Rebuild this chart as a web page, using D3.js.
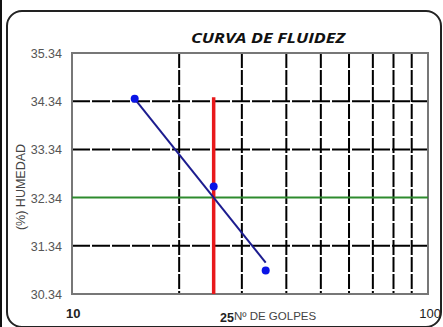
<!DOCTYPE html>
<html>
<head>
<meta charset="utf-8">
<script src="https://cdn.jsdelivr.net/npm/d3@7"></script>
<style>
  html, body { margin: 0; padding: 0; background: #fff; }
  svg { display: block; }
</style>
</head>
<body>
<svg id="chart" width="443" height="327"></svg>
<script>
// Ensayo de límite líquido: humedad vs número de golpes
const golpes = [15, 25, 35];
const humedad = [34.39, 32.57, 30.83];
// Recta de ajuste (escala logarítmica)
const ajusteGolpes = [15, 35];
const ajusteHumedad = [34.39, 30.99];
// Línea de referencia a 25 golpes y límite líquido
const golpesRef = 25;
const limiteLiquido = 32.34;
const refTop = 34.42;
const yTicks = [30.34, 31.34, 32.34, 33.34, 34.34, 35.34];
const xGrid = [20, 30, 40, 50, 60, 70, 80, 90];

const svg = d3.select("#chart");
const W = 443, H = 327;
const m = { left: 72, right: 15, top: 53, bottom: 33 };

const x = d3.scaleLog().domain([10, 100]).range([m.left, W - m.right]);
const y = d3.scaleLinear().domain([30.34, 35.34]).range([H - m.bottom, m.top]);

// marco exterior
svg.append("line").attr("x1", 1).attr("x2", 1).attr("y1", 0).attr("y2", H)
  .attr("stroke", "#111").attr("stroke-width", 2);
svg.append("rect").attr("x", 7).attr("y", 11).attr("width", 434).attr("height", 316)
  .attr("rx", 15).attr("fill", "none").attr("stroke", "#222").attr("stroke-width", 2);

// título
svg.append("text").attr("x", 268).attr("y", 43).attr("text-anchor", "middle")
  .attr("font-family", "'Open Sans', sans-serif")
  .attr("font-weight", "bold").attr("font-style", "italic").attr("font-size", 14)
  .attr("textLength", 154).attr("lengthAdjust", "spacingAndGlyphs")
  .attr("fill", "#111").text("CURVA DE FLUIDEZ");

const plot = svg.append("g");

// rejilla vertical
plot.selectAll(".vg").data(xGrid).join("line")
  .attr("x1", d => x(d)).attr("x2", d => x(d))
  .attr("y1", y(35.34)).attr("y2", y(30.34))
  .attr("stroke", "#000").attr("stroke-width", 2).attr("stroke-dasharray", "15,2");

// rejilla horizontal
plot.selectAll(".hg").data(yTicks.filter(v => v > 30.34 && v < 35.34 && v !== limiteLiquido)).join("line")
  .attr("x1", m.left).attr("x2", W - m.right)
  .attr("y1", d => y(d)).attr("y2", d => y(d))
  .attr("stroke", "#000").attr("stroke-width", 2).attr("stroke-dasharray", "18,2");

// borde del área de trazado
plot.append("rect").attr("x", m.left).attr("y", m.top)
  .attr("width", W - m.right - m.left).attr("height", H - m.bottom - m.top)
  .attr("fill", "none").attr("stroke", "#777").attr("stroke-width", 2);

// límite líquido (horizontal verde)
plot.append("line").attr("x1", m.left).attr("x2", W - m.right)
  .attr("y1", y(limiteLiquido)).attr("y2", y(limiteLiquido))
  .attr("stroke", "#2e8b2e").attr("stroke-width", 2);

// 25 golpes (vertical roja)
plot.append("line").attr("x1", x(golpesRef)).attr("x2", x(golpesRef))
  .attr("y1", y(refTop)).attr("y2", y(30.34))
  .attr("stroke", "#e8191b").attr("stroke-width", 3.5);

// recta de ajuste
const linea = d3.line().x(d => x(d[0])).y(d => y(d[1]));
plot.append("path").datum(d3.zip(ajusteGolpes, ajusteHumedad))
  .attr("d", linea).attr("fill", "none").attr("stroke", "#1c1c8f").attr("stroke-width", 2);

// puntos de ensayo
plot.selectAll(".pt").data(d3.zip(golpes, humedad)).join("circle")
  .attr("cx", d => x(d[0])).attr("cy", d => y(d[1])).attr("r", 4)
  .attr("fill", "#0a14e6");

// etiquetas eje Y
svg.append("g").selectAll("text").data(yTicks).join("text")
  .attr("x", 62).attr("y", d => y(d) + 5).attr("text-anchor", "end")
  .attr("font-family", "'Liberation Sans', Arial, sans-serif").attr("font-size", 12.5)
  .attr("fill", "#555").text(d => d.toFixed(2));

// etiquetas eje X
const lab = svg.append("g").attr("font-family", "'Liberation Sans', Arial, sans-serif");
lab.append("text").attr("x", 66).attr("y", 318).attr("font-size", 13).attr("font-weight", "bold")
  .attr("fill", "#222").text("10");
lab.append("text").attr("x", 441).attr("y", 318).attr("text-anchor", "end").attr("font-size", 13)
  .attr("fill", "#222").text("100");
lab.append("text").attr("x", 220).attr("y", 322).attr("font-size", 12.5).attr("font-weight", "bold")
  .attr("fill", "#222").text(golpesRef);
lab.append("text").attr("x", 234).attr("y", 320).attr("font-size", 11.5)
  .attr("fill", "#444").text("Nº DE GOLPES");

// título eje Y
svg.append("text").attr("transform", "translate(25,187) rotate(-90)")
  .attr("text-anchor", "middle").attr("font-family", "'Liberation Sans', Arial, sans-serif")
  .attr("font-size", 12.5).attr("fill", "#444").text("(%) HUMEDAD");
</script>
</body>
</html>
